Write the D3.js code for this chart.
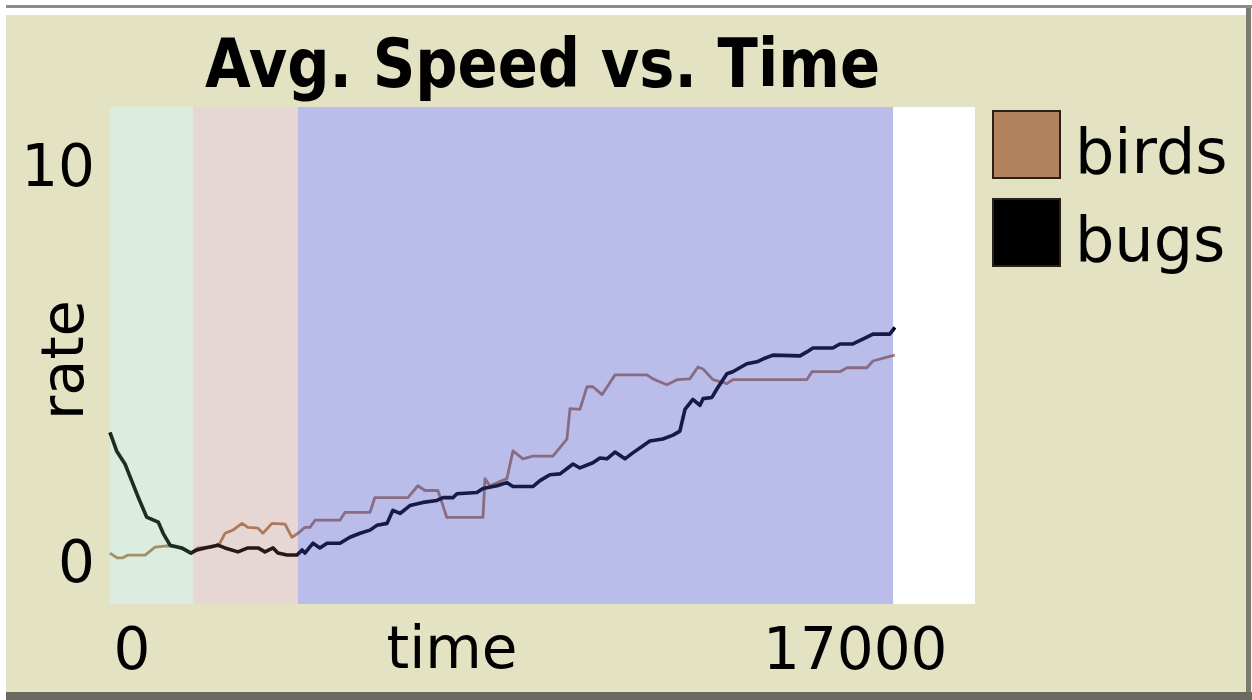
<!DOCTYPE html>
<html>
<head>
<meta charset="utf-8">
<script src="https://cdn.jsdelivr.net/npm/d3@7"></script>
<style>
  body { margin: 0; background: #ffffff; }
  text { font-family: "DejaVu Sans", Verdana, sans-serif; fill: #000; }
</style>
</head>
<body>
<script>
var w = 1252;
var h = 700;

/*
    Data: [time, rate] pairs for each pen.
*/
var bugsData = [
    [0, 3.25], [130, 2.78], [295, 2.45], [425, 2.03], [555, 1.61], [720, 1.11],
    [950, 0.98], [1045, 0.70], [1180, 0.40], [1410, 0.33], [1590, 0.20], [1705, 0.28],
    [1865, 0.33], [2120, 0.40], [2260, 0.33], [2515, 0.23], [2710, 0.33], [2910, 0.33],
    [3045, 0.23], [3205, 0.33], [3300, 0.20], [3480, 0.15], [3675, 0.15], [3775, 0.28],
    [3830, 0.20], [3990, 0.45], [4125, 0.33], [4265, 0.45], [4520, 0.45], [4715, 0.60],
    [4915, 0.70], [5110, 0.78], [5245, 0.90], [5445, 0.95], [5560, 1.28], [5700, 1.20],
    [5895, 1.40], [6150, 1.48], [6425, 1.53], [6545, 1.60], [6740, 1.60], [6820, 1.70],
    [7210, 1.73], [7330, 1.83], [7605, 1.90], [7800, 1.98], [7920, 1.88], [8310, 1.88],
    [8450, 2.03], [8645, 2.18], [8845, 2.20], [9100, 2.45], [9235, 2.35], [9490, 2.48],
    [9630, 2.60], [9765, 2.58], [9925, 2.75], [10120, 2.58], [10275, 2.73], [10610, 3.03],
    [10865, 3.08], [11065, 3.18], [11200, 3.28], [11300, 3.83], [11455, 4.08], [11595, 3.93],
    [11655, 4.10], [11830, 4.13], [11930, 4.35], [12125, 4.73], [12240, 4.78], [12515, 4.98],
    [12715, 5.03], [12830, 5.10], [13030, 5.20], [13560, 5.18], [13695, 5.28], [13815, 5.38],
    [14205, 5.38], [14345, 5.48], [14600, 5.48], [14795, 5.60], [14995, 5.73], [15325, 5.73],
    [15425, 5.90]
];

var birdsData = [
    [0, 0.20], [140, 0.08], [255, 0.08], [355, 0.15], [690, 0.15], [885, 0.35],
    [1120, 0.38], [1315, 0.35], [1475, 0.28], [1590, 0.20], [1730, 0.33], [2005, 0.35],
    [2160, 0.45], [2260, 0.70], [2415, 0.78], [2595, 0.95], [2710, 0.85], [2910, 0.83],
    [3005, 0.70], [3185, 0.95], [3440, 0.93], [3575, 0.60], [3695, 0.70], [3830, 0.85],
    [3930, 0.85], [4030, 1.03], [4520, 1.03], [4620, 1.23], [5110, 1.23], [5205, 1.60],
    [5855, 1.60], [6050, 1.90], [6190, 1.78], [6445, 1.78], [6620, 1.10], [7330, 1.10],
    [7370, 2.08], [7465, 1.90], [7800, 2.08], [7920, 2.78], [8115, 2.58], [8310, 2.65],
    [8705, 2.65], [8980, 3.08], [9040, 3.85], [9235, 3.83], [9375, 4.40], [9490, 4.40],
    [9670, 4.20], [9925, 4.70], [10550, 4.70], [10670, 4.60], [10945, 4.45], [11145, 4.58],
    [11395, 4.60], [11555, 4.90], [11655, 4.85], [11850, 4.58], [12125, 4.48], [12240, 4.58],
    [13695, 4.58], [13795, 4.78], [14345, 4.78], [14485, 4.88], [14875, 4.88], [14995, 5.05],
    [15270, 5.15], [15425, 5.20]
];

// phase boundaries (time) for the shaded background bands
var phaseEdges = [0, 1630, 3695, 15390];

var xTicks = [0, 17000];
var yTicks = [0, 10];
var legendNames = ["birds", "bugs"];

// styles
var bandColors = ["rgba(116,180,132,0.25)", "rgba(156,92,84,0.25)", "rgba(65,68,195,0.36)"];
var penColors = ["#b3835f", "#000000"];

/*
    Scales: plot box runs 110..975 across, 107..604 down.
*/
var plot = { left: 110, right: 975, top: 107, bottom: 604 };

var xScale = d3.scaleLinear()
    .domain([0, 17000])
    .range([plot.left, plot.right]);

var yScale = d3.scaleLinear()
    .domain([-1.086, 11.465])
    .range([plot.bottom, plot.top]);

var svg = d3.select("body")
    .append("svg")
    .attr("width", w)
    .attr("height", h);

// window frame
svg.append("rect").attr("x", 6).attr("y", 5).attr("width", w - 6).attr("height", 3).attr("fill", "#8c8c8c");
svg.append("rect").attr("x", 6).attr("y", 15).attr("width", 1241).attr("height", 678).attr("fill", "#e3e2c3");
svg.append("rect").attr("x", 1246).attr("y", 8).attr("width", 5).attr("height", 692).attr("fill", "#7a7a70");
svg.append("rect").attr("x", 6).attr("y", 692).attr("width", w - 6).attr("height", 8).attr("fill", "#6a6a60");

// plot background
svg.append("rect")
    .attr("x", plot.left)
    .attr("y", plot.top)
    .attr("width", plot.right - plot.left)
    .attr("height", plot.bottom - plot.top)
    .attr("fill", "#ffffff");

var line = d3.line()
    .x(function(d){ return xScale(d[0]); })
    .y(function(d){ return yScale(d[1]); });

svg.append("path")
    .datum(birdsData)
    .attr("d", line)
    .attr("fill", "none")
    .attr("stroke", penColors[0])
    .attr("stroke-width", 2.8)
    .attr("stroke-linejoin", "round");

svg.append("path")
    .datum(bugsData)
    .attr("d", line)
    .attr("fill", "none")
    .attr("stroke", penColors[1])
    .attr("stroke-width", 3.6)
    .attr("stroke-linejoin", "round");

/*
    Translucent phase bands drawn over the pens, which tints them.
*/
var bands = d3.pairs(phaseEdges);
svg.selectAll("rect.band")
    .data(bands)
    .enter()
    .append("rect")
    .attr("class", "band")
    .attr("x", function(d){ return xScale(d[0]); })
    .attr("y", plot.top)
    .attr("width", function(d){ return xScale(d[1]) - xScale(d[0]); })
    .attr("height", plot.bottom - plot.top)
    .attr("fill", function(d, i){ return bandColors[i]; });

// axes, NetLogo style: labels only
var xAxis = d3.axisBottom(xScale)
    .tickValues(xTicks)
    .tickSize(0)
    .tickPadding(0)
    .tickFormat(d3.format("d"));

var gx = svg.append("g")
    .attr("transform", "translate(0," + plot.bottom + ")")
    .call(xAxis);
gx.select(".domain").remove();
gx.selectAll("text")
    .attr("font-family", null)
    .attr("font-size", 58)
    .attr("dy", 0)
    .attr("y", 65)
    .attr("x", function(d, i){ return i === 0 ? 3 : -28; })
    .attr("text-anchor", function(d, i){ return i === 0 ? "start" : "end"; });

var yAxis = d3.axisLeft(yScale)
    .tickValues(yTicks)
    .tickSize(0)
    .tickPadding(15)
    .tickFormat(d3.format("d"));

var gy = svg.append("g")
    .attr("transform", "translate(" + plot.left + ",0)")
    .call(yAxis);
gy.select(".domain").remove();
gy.selectAll("text")
    .attr("font-family", null)
    .attr("font-size", 58)
    .attr("dy", "0.36em");

// axis names
svg.append("text")
    .attr("x", 452)
    .attr("y", 668)
    .attr("text-anchor", "middle")
    .attr("font-size", 58)
    .text("time");

svg.append("text")
    .attr("transform", "translate(83,360) rotate(-90)")
    .attr("text-anchor", "middle")
    .attr("font-size", 59)
    .text("rate");

// title
svg.append("text")
    .attr("x", (plot.left + plot.right) / 2)
    .attr("y", 87)
    .attr("text-anchor", "middle")
    .attr("font-size", 67)
    .attr("font-weight", "bold")
    .attr("textLength", 675)
    .attr("lengthAdjust", "spacingAndGlyphs")
    .text("Avg. Speed vs. Time");

// legend
var legend = svg.selectAll("g.legend")
    .data(legendNames)
    .enter()
    .append("g")
    .attr("class", "legend")
    .attr("transform", function(d, i){ return "translate(993," + (111 + i * 88) + ")"; });

legend.append("rect")
    .attr("x", 0)
    .attr("y", 0)
    .attr("width", 67)
    .attr("height", 67)
    .attr("fill", function(d, i){ return penColors[i]; })
    .attr("stroke", "#2a2018")
    .attr("stroke-width", 2);

legend.append("text")
    .attr("x", 82)
    .attr("y", 62)
    .attr("font-size", 62)
    .text(function(d){ return d; });
</script>
</body>
</html>
